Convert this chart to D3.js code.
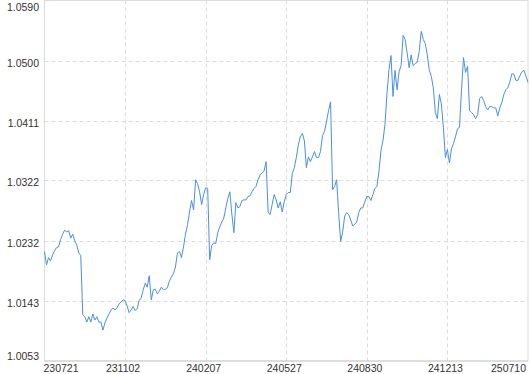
<!DOCTYPE html>
<html>
<head>
    <meta http-equiv="content-type" content="text/html; charset=utf-8">
    <script src="https://cdnjs.cloudflare.com/ajax/libs/d3/7.8.5/d3.min.js"></script>
    <title>net value</title>
<style>
body{
    margin: 0px;
    padding: 0px;
    background: #fff;
    overflow: hidden;
}
text{
    font-family: "Liberation Sans", Arial, sans-serif;
    font-size: 10.5px;
    fill: #333;
}
</style>
</head>
<body>
<div id="chart"></div>
<script>
// tick labels (dates) sit every 40 points
var dateLabels = ["230721", "231102", "240207", "240527", "240830", "241213", "250710"];
var labelStep = 40;
var yTicks = [1.0053, 1.0143, 1.0232, 1.0322, 1.0411, 1.0500, 1.0590];

var values = [
    1.0216, 1.0196, 1.0207, 1.0202, 1.0211, 1.0217, 1.0222, 1.0223, 1.0234, 1.0242,
    1.0248, 1.0245, 1.0247, 1.0236, 1.0242, 1.0232, 1.0226, 1.0214, 1.0210, 1.0122,
    1.0119, 1.0111, 1.0119, 1.0111, 1.0123, 1.0114, 1.0119, 1.0111, 1.0111, 1.0099,
    1.0110, 1.0117, 1.0123, 1.0129, 1.0132, 1.0129, 1.0132, 1.0138, 1.0141, 1.0144,
    1.0143, 1.0135, 1.0125, 1.0129, 1.0134, 1.0128, 1.0131, 1.0143, 1.0147, 1.0159,
    1.0169, 1.0163, 1.0180, 1.0144, 1.0159, 1.0160, 1.0153, 1.0157, 1.0163, 1.0159,
    1.0160, 1.0162, 1.0172, 1.0178, 1.0183, 1.0193, 1.0214, 1.0216, 1.0207, 1.0223,
    1.0242, 1.0256, 1.0275, 1.0292, 1.0278, 1.0323, 1.0317, 1.0305, 1.0286, 1.0301,
    1.0311, 1.0310, 1.0204, 1.0225, 1.0229, 1.0228, 1.0244, 1.0253, 1.0260, 1.0266,
    1.0281, 1.0295, 1.0305, 1.0272, 1.0244, 1.0289, 1.0281, 1.0283, 1.0292, 1.0293,
    1.0293, 1.0298, 1.0299, 1.0305, 1.0310, 1.0313, 1.0323, 1.0330, 1.0333, 1.0336,
    1.0350, 1.0275, 1.0271, 1.0286, 1.0301, 1.0293, 1.0281, 1.0290, 1.0275, 1.0290,
    1.0301, 1.0304, 1.0304, 1.0332, 1.0341, 1.0356, 1.0375, 1.0387, 1.0392, 1.0381,
    1.0341, 1.0357, 1.0350, 1.0357, 1.0365, 1.0356, 1.0356, 1.0365, 1.0389, 1.0395,
    1.0410, 1.0426, 1.0439, 1.0308, 1.0313, 1.0323, 1.0274, 1.0231, 1.0245, 1.0269,
    1.0274, 1.0271, 1.0263, 1.0254, 1.0257, 1.0260, 1.0274, 1.0281, 1.0281, 1.0290,
    1.0298, 1.0298, 1.0292, 1.0301, 1.0310, 1.0313, 1.0335, 1.0366, 1.0381, 1.0405,
    1.0451, 1.0487, 1.0508, 1.0447, 1.0486, 1.0457, 1.0484, 1.0493, 1.0538, 1.0532,
    1.0512, 1.0490, 1.0509, 1.0493, 1.0496, 1.0498, 1.0514, 1.0544, 1.0532, 1.0526,
    1.0509, 1.0486, 1.0477, 1.0460, 1.0423, 1.0414, 1.0450, 1.0436, 1.0401, 1.0356,
    1.0368, 1.0348, 1.0369, 1.0377, 1.0387, 1.0399, 1.0401, 1.0457, 1.0505, 1.0483,
    1.0492, 1.0426, 1.0423, 1.0420, 1.0414, 1.0420, 1.0444, 1.0447, 1.0441, 1.0432,
    1.0427, 1.0432, 1.0432, 1.0430, 1.0430, 1.0418, 1.0430, 1.0438, 1.0450, 1.0457,
    1.0460, 1.0469, 1.0481, 1.0480, 1.0471, 1.0471, 1.0478, 1.0484, 1.0486, 1.0477,
    1.0468
];

var W = 530, H = 374;
var m = {left: 44.5, right: 2, top: 0.5, bottom: 13};

var svg = d3.select("#chart").append("svg")
    .attr("width", W)
    .attr("height", H);

var x = d3.scaleLinear()
    .domain([0, values.length - 1])
    .range([m.left, W - m.right]);
var y = d3.scaleLinear()
    .domain([yTicks[0], yTicks[yTicks.length - 1]])
    .range([H - m.bottom, m.top]);

var xIdx = dateLabels.map(function(d, i){ return i * labelStep; });

// grid
svg.append("g").selectAll("line")
    .data(yTicks.slice(1, -1))
    .enter().append("line")
    .attr("x1", m.left).attr("x2", W - m.right)
    .attr("y1", function(d){ return Math.round(y(d)) + 0.5; })
    .attr("y2", function(d){ return Math.round(y(d)) + 0.5; })
    .attr("stroke", "#ddd")
    .attr("stroke-dasharray", "4,3");
svg.append("g").selectAll("line")
    .data(xIdx.slice(1, -1))
    .enter().append("line")
    .attr("x1", function(d){ return Math.round(x(d)) + 0.5; })
    .attr("x2", function(d){ return Math.round(x(d)) + 0.5; })
    .attr("y1", m.top).attr("y2", H - m.bottom)
    .attr("stroke", "#ddd")
    .attr("stroke-dasharray", "4,3");

// frame
svg.append("rect")
    .attr("x", m.left).attr("y", m.top)
    .attr("width", W - m.right - m.left)
    .attr("height", H - m.bottom - m.top)
    .attr("fill", "none")
    .attr("stroke", "#ddd");
svg.append("line")
    .attr("x1", m.left).attr("x2", W - m.right)
    .attr("y1", H - m.bottom).attr("y2", H - m.bottom)
    .attr("stroke", "#ccc");

// y labels
svg.append("g").selectAll("text")
    .data(yTicks)
    .enter().append("text")
    .attr("x", 39)
    .attr("y", function(d, i){
        if(i == yTicks.length - 1){ return 11; }
        if(i == 0){ return H - 14; }
        return y(d) + 6;
    })
    .attr("text-anchor", "end")
    .text(function(d){ return d.toFixed(4); });

// x labels
svg.append("g").selectAll("text")
    .data(dateLabels)
    .enter().append("text")
    .attr("x", function(d, i){ return i == 0 ? x(xIdx[i]) - 1 : (i == dateLabels.length - 1 ? x(xIdx[i]) - 2 : x(xIdx[i]) - 2); })
    .attr("y", H - 2)
    .attr("text-anchor", function(d, i){ return i == 0 ? "start" : (i == dateLabels.length - 1 ? "end" : "middle"); })
    .text(function(d){ return d; });

// the series
var line = d3.line()
    .x(function(d, i){ return x(i); })
    .y(function(d){ return y(d); });
svg.append("path")
    .datum(values)
    .attr("d", line)
    .attr("fill", "none")
    .attr("stroke", "#4a8fe6")
    .attr("stroke-width", 1);
</script>
</body>
</html>
